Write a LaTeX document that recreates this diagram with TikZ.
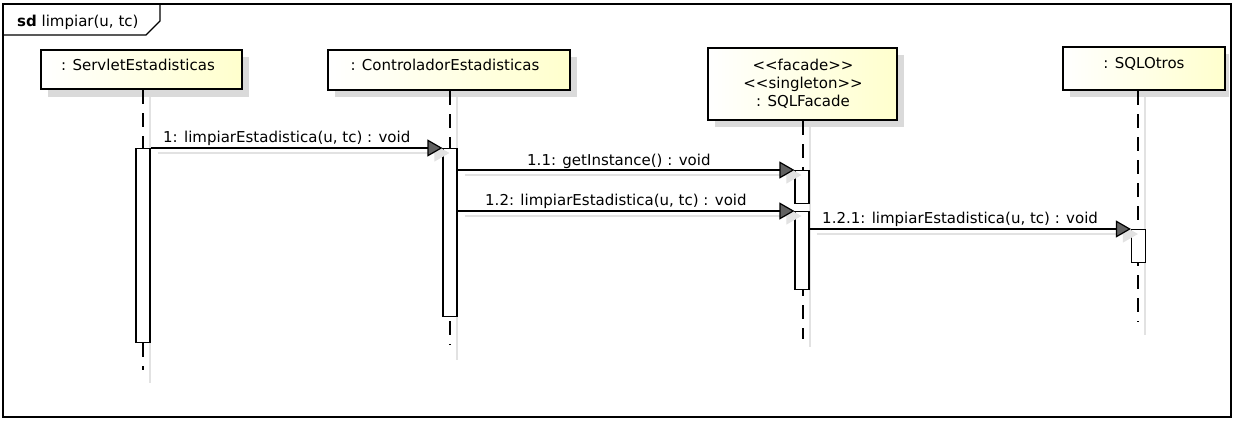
\documentclass[tikz,border=0pt]{standalone}
\usepackage{fontspec}
\setmainfont{DejaVu Sans}
\usetikzlibrary{arrows.meta,calc}
\definecolor{objyellow}{RGB}{255,255,205}
\definecolor{shadowgray}{RGB}{218,218,218}
\definecolor{lightshadow}{RGB}{226,226,226}
\begin{document}
\begin{tikzpicture}[x=1pt,y=-1pt,
  txt/.style={font=\fontsize{15}{18}\selectfont, inner sep=0pt},
  obj/.style={draw=black, line width=2.6pt, left color=white, right color=objyellow, inner sep=0pt},
  objshadow/.style={fill=shadowgray},
  bar/.style={draw=black, line width=1.2pt, fill=white, minimum width=14, inner sep=0pt},
  life/.style={draw=black, line width=1.2pt, dash pattern=on 14pt off 9pt},
  lifeshadow/.style={draw=lightshadow, line width=1.1pt},
  msg/.style={draw=black, line width=1.2pt, -{Triangle[length=15pt,width=17pt,fill=black!62]}},
  msgshadow/.style={draw=lightshadow, line width=1.1pt, -{Triangle[length=15pt,width=17pt,fill=lightshadow]}},
  frameline/.style={draw=black, line width=1.2pt}
]
\useasboundingbox (0,0) rectangle (1234,423);
% frame
\draw[frameline] (3,4) rectangle (1231,417);
\draw[frameline] (3,35) -- (146,35) -- (160,21) -- (160,4);
\node[txt, anchor=base west] (title) at (17,27) {\textbf{sd} limpiar(u, tc)};

% object shadows
\fill[objshadow] (48,57) rectangle (249,97);
\fill[objshadow] (335,57) rectangle (577,97);
\fill[objshadow] (715,55) rectangle (904,127);
\fill[objshadow] (1070,54) rectangle (1229,97);

% lifeline shadows
\draw[lifeshadow] (150,97) -- (150,383);
\draw[lifeshadow] (457,97) -- (457,360);
\draw[lifeshadow] (810,127) -- (810,347);
\draw[lifeshadow] (1145,97) -- (1145,335);

% objects
\node[obj, minimum width=201, minimum height=39] (s) at (141.5,69.5) {};
\node[obj, minimum width=242, minimum height=40] (c) at (449,70) {};
\node[obj, minimum width=189, minimum height=72] (f) at (802.5,84) {};
\node[obj, minimum width=162, minimum height=43] (o) at (1144,68.5) {};

\node[txt] (sl) at (138,65) {: ServletEstadisticas};
\node[txt] (cl) at (445,65) {: ControladorEstadisticas};
\node[txt, align=center, font=\fontsize{15}{18}\selectfont] (fl) at (803,84) {<\kern0pt<facade>\kern0pt>\\<\kern0pt<singleton>\kern0pt>\\: SQLFacade};
\node[txt] (ol) at (1144,64) {: SQLOtros};

% lifelines
\draw[life] (s.south -| 143,0) -- (143,370);
\draw[life] (c.south -| 450,0) -- (450,345);
\draw[life] (f.south -| 803,0) -- (803,339);
\draw[life] (o.south -| 1138,0) -- (1138,322);

% activation bars
\node[bar, minimum height=194, anchor=north] (b1) at (143,148) {};
\node[bar, minimum height=168, anchor=north] (b2) at (450,148) {};
\node[bar, minimum height=33, anchor=north] (f1) at (802,170) {};
\node[bar, minimum height=78, anchor=north] (f2) at (802,211) {};
\node[bar, minimum height=33, anchor=north] (o1) at (1138.5,229) {};

% message shadows
\draw[msgshadow] ([shift={(7,5)}]b1.north east) -- ([shift={(7,5)}]b2.north west);
\draw[msgshadow] ([shift={(7,5)}]b2.east |- f1.north) -- ([shift={(7,5)}]f1.north west);
\draw[msgshadow] ([shift={(7,5)}]b2.east |- f2.north) -- ([shift={(7,5)}]f2.north west);
\draw[msgshadow] ([shift={(7,5)}]f2.east |- o1.north) -- ([shift={(7,5)}]o1.north west);

% messages
\draw[msg] (b1.north east) -- (b2.north west);
\draw[msg] (b2.east |- f1.north) -- (f1.north west);
\draw[msg] (b2.east |- f2.north) -- (f2.north west);
\draw[msg] (f2.east |- o1.north) -- (o1.north west);

\node[txt, anchor=base west] (m1) at (163,142) {1: limpiarEstadistica(u, tc) : void};
\node[txt, anchor=base west] (m2) at (527,165) {1.1: getInstance() : void};
\node[txt, anchor=base west] (m3) at (485,205) {1.2: limpiarEstadistica(u, tc) : void};
\node[txt, anchor=base west] (m4) at (822,223) {1.2.1: limpiarEstadistica(u, tc) : void};
\end{tikzpicture}
\end{document}
